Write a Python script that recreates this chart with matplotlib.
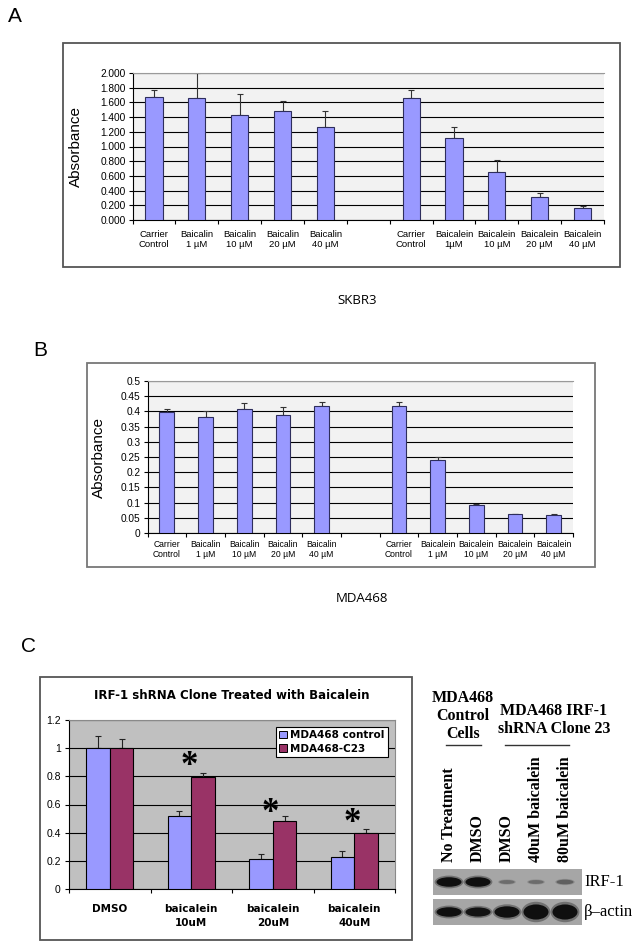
import numpy as np
import matplotlib
matplotlib.use("Agg")
import matplotlib.pyplot as plt
from matplotlib.patches import Rectangle, Ellipse, Patch
from matplotlib.lines import Line2D

# ---- data ----
# panel A : SKBR3
a_labels = ['Carrier\nControl', 'Baicalin\n1 µM', 'Baicalin\n10 µM', 'Baicalin\n20 µM', 'Baicalin\n40 µM', '',
            'Carrier\nControl', 'Baicalein\n1µM', 'Baicalein\n10 µM', 'Baicalein\n20 µM', 'Baicalein\n40 µM']
skbr3_baicalin = [1.667, 1.660, 1.427, 1.486, 1.268]
skbr3_baicalin_err = [0.105, 0.340, 0.287, 0.128, 0.214]
skbr3_baicalein = [1.664, 1.114, 0.655, 0.317, 0.159]
skbr3_baicalein_err = [0.109, 0.154, 0.163, 0.046, 0.036]

# panel B : MDA468
b_labels = ['Carrier\nControl', 'Baicalin\n1 µM', 'Baicalin\n10 µM', 'Baicalin\n20 µM', 'Baicalin\n40 µM', '',
            'Carrier\nControl', 'Baicalein\n1 µM', 'Baicalein\n10 µM', 'Baicalein\n20 µM', 'Baicalein\n40 µM']
mda_baicalin = [0.397, 0.380, 0.409, 0.388, 0.418]
mda_baicalin_err = [0.011, 0.020, 0.017, 0.025, 0.014]
mda_baicalein = [0.418, 0.241, 0.091, 0.061, 0.059]
mda_baicalein_err = [0.014, 0.009, 0.006, 0.0005, 0.002]

# panel C : IRF-1 shRNA clone
c_labels = ['DMSO', 'baicalein\n10uM', 'baicalein\n20uM', 'baicalein\n40uM']
c_control = [1.0, 0.517, 0.213, 0.229]
c_control_err = [0.083, 0.038, 0.035, 0.040]
c_c23 = [1.0, 0.796, 0.484, 0.401]
c_c23_err = [0.063, 0.026, 0.033, 0.024]
c_star_y = [None, 0.92, 0.59, 0.515]

# western blot
lanes = ['No Treatment', 'DMSO', 'DMSO', '40uM baicalein', '80uM baicalein']
irf1_signal = [1.0, 1.0, 0.25, 0.25, 0.35]
actin_signal = [1.0, 0.95, 1.25, 1.75, 1.75]

W, H = 644, 950
fig = plt.figure(figsize=(W / 100, H / 100), dpi=100)
fig.patch.set_facecolor('white')

SANS = ['Liberation Sans', 'DejaVu Sans']
SERIF = ['Liberation Serif', 'DejaVu Serif']


def rect(l, t, r, b):
    return [l / W, 1 - b / H, (r - l) / W, (b - t) / H]


def frame(l, t, r, b, color='#666666', lw=1.3):
    fig.add_artist(Rectangle((l / W, 1 - b / H), (r - l) / W, (b - t) / H, transform=fig.transFigure,
                             fill=False, edgecolor=color, linewidth=lw))


def ftext(x, y, s, **kw):
    fig.text(x / W, 1 - y / H, s, **kw)


def excel_bars(ax, left, left_err, right, right_err, labels, ymax, step, fmt, bw, fs_lab):
    pos = list(range(len(left))) + list(range(len(left) + 1, len(left) + 1 + len(right)))
    vals = left + right
    errs = left_err + right_err
    ax.set_facecolor('#f2f2f2')
    ax.bar(pos, vals, width=bw, color='#9999ff', edgecolor='#2e2e5c', linewidth=0.8, zorder=3)
    ax.errorbar(pos, vals, yerr=[np.zeros(len(vals)), errs], fmt='none', ecolor='#333333',
                elinewidth=0.8, capsize=2.5, capthick=0.8, zorder=2.5)
    ax.set_xlim(-0.5, len(labels) - 0.5)
    ax.set_ylim(0, ymax)
    yt = np.arange(0, ymax + step / 2, step)
    ax.set_yticks(yt)
    ax.set_yticklabels([fmt(v) for v in yt], family=SANS, fontsize=7.3)
    ax.yaxis.grid(True, color='black', linewidth=0.8)
    ax.set_axisbelow(True)
    ax.set_xticks(np.arange(-0.5, len(labels), 1))
    ax.set_xticklabels([])
    ax.set_xticks(range(len(labels)), minor=True)
    ax.set_xticklabels(labels, minor=True, family=SANS, fontsize=fs_lab, linespacing=1.15)
    ax.tick_params(axis='x', which='major', direction='out', length=3, width=0.8)
    ax.tick_params(axis='x', which='minor', length=0, pad=7)
    ax.tick_params(axis='y', direction='out', length=3, width=0.8, pad=2)
    for s in ['left', 'bottom']:
        ax.spines[s].set_linewidth(0.8)
    ax.spines['top'].set_color('#9a9a9a')
    ax.spines['right'].set_visible(False)
    ax.set_ylabel('Absorbance', family=SANS, fontsize=11)


# ---------------- panel A ----------------
ftext(15, 17, 'A', family=SANS, fontsize=15, ha='center', va='center')
frame(62.5, 43, 619.5, 267, color='#555555')
axA = fig.add_axes(rect(132.5, 73, 604, 220))
excel_bars(axA, skbr3_baicalin, skbr3_baicalin_err, skbr3_baicalein, skbr3_baicalein_err,
           a_labels, 2.0, 0.2, lambda v: f'{v:.3f}', 0.40, 6.8)
axA.yaxis.set_label_coords(-0.105, 0.5)
ftext(357, 301, 'SKBR3', family=['Open Sans', 'DejaVu Sans'], fontsize=9.5, ha='center', va='center')

# ---------------- panel B ----------------
ftext(40, 350, 'B', family=SANS, fontsize=15, ha='center', va='center')
frame(86.5, 363, 595, 567, color='#777777')
axB = fig.add_axes(rect(147.5, 381, 573, 533))
excel_bars(axB, mda_baicalin, mda_baicalin_err, mda_baicalein, mda_baicalein_err,
           b_labels, 0.5, 0.05, lambda v: f'{v:g}' if v > 1e-9 else '0', 0.38, 6.2)
axB.yaxis.set_label_coords(-0.098, 0.5)
axB.tick_params(axis='x', which='minor', pad=5)
ftext(362, 598, 'MDA468', family=['Open Sans', 'DejaVu Sans'], fontsize=9.5, ha='center', va='center')

# ---------------- panel C ----------------
ftext(29, 647, 'C', family=SANS, fontsize=15, ha='center', va='center')
frame(40, 677, 412, 940, color='#555555')
axC = fig.add_axes(rect(69, 720, 395, 889))
axC.set_facecolor('#c0c0c0')
xc = np.arange(len(c_labels))
bw = 0.29
axC.bar(xc - bw / 2, c_control, width=bw, color='#9999ff', edgecolor='black', linewidth=0.8, zorder=3)
axC.bar(xc + bw / 2, c_c23, width=bw, color='#993366', edgecolor='black', linewidth=0.8, zorder=3)
axC.errorbar(xc - bw / 2, c_control, yerr=[np.zeros(len(xc)), c_control_err], fmt='none', ecolor='#222222',
             elinewidth=0.8, capsize=2.5, capthick=0.8, zorder=2.5)
axC.errorbar(xc + bw / 2, c_c23, yerr=[np.zeros(len(xc)), c_c23_err], fmt='none', ecolor='#222222',
             elinewidth=0.8, capsize=2.5, capthick=0.8, zorder=2.5)
for i, sy in enumerate(c_star_y):
    if sy is not None:
        axC.annotate('*', (xc[i] - 0.03, sy), xytext=(0, -11.5), textcoords='offset points',
                     ha='center', va='baseline', fontsize=25, family=SERIF, fontweight='bold', zorder=5)
axC.set_xlim(-0.5, len(c_labels) - 0.5)
axC.set_ylim(0, 1.2)
ytc = np.arange(0, 1.21, 0.2)
axC.set_yticks(ytc)
axC.set_yticklabels([f'{v:g}' if v > 1e-9 else '0' for v in ytc], family=SANS, fontsize=7.5)
axC.yaxis.grid(True, color='black', linewidth=0.8)
axC.set_axisbelow(True)
axC.set_xticks(np.arange(-0.5, len(c_labels), 1))
axC.set_xticklabels([])
axC.set_xticks(xc, minor=True)
axC.set_xticklabels(c_labels, minor=True, family='DejaVu Sans', fontweight='bold', fontsize=7.5,
                    linespacing=1.5)
axC.tick_params(axis='x', which='major', direction='out', length=3, width=0.8)
axC.tick_params(axis='x', which='minor', length=0, pad=11)
axC.tick_params(axis='y', direction='out', length=3, width=0.8, pad=3)
for s in ['left', 'bottom']:
    axC.spines[s].set_linewidth(0.8)
for s in ['top', 'right']:
    axC.spines[s].set_color('#8a8a8a')
axC.set_title('IRF-1 shRNA Clone Treated with Baicalein', family='DejaVu Sans', fontweight='bold',
              fontsize=8.5, pad=15)
handles = [Patch(facecolor='#9999ff', edgecolor='black', linewidth=0.7),
           Patch(facecolor='#993366', edgecolor='black', linewidth=0.7)]
leg = axC.legend(handles, ['MDA468 control', 'MDA468-C23'], loc='upper left',
                 bbox_to_anchor=(276 / W, 1 - 727 / H), bbox_transform=fig.transFigure,
                 fancybox=False, framealpha=1, edgecolor='black', borderpad=0.3, borderaxespad=0,
                 handlelength=0.75, handleheight=0.75, handletextpad=0.3, labelspacing=0.35,
                 prop={'family': 'DejaVu Sans', 'weight': 'bold', 'size': 7.5})
leg.get_frame().set_linewidth(0.8)

# ---------------- western blot ----------------
x0, dx = 449, 29.0   # lane 0 centre and lane pitch (pixels)
y0, dy = 882, 30.0   # row 0 centre and row pitch (pixels)
bl, bt, br, bb = 420, 640, 644, 932
axW = fig.add_axes(rect(bl, bt, br, bb))
axW.set_xlim((bl - x0) / dx, (br - x0) / dx)
axW.set_ylim((bb - y0) / dy, (bt - y0) / dy)
axW.axis('off')
for row, sig in enumerate([irf1_signal, actin_signal]):
    axW.add_patch(Rectangle(((433 - x0) / dx, row - 0.42), (582 - 433) / dx, 0.84,
                            facecolor='#a6a6a6', edgecolor='none'))
    for i, s in enumerate(sig):
        w = min(12 + 14 * s, 25) / dx
        h = (2 + 7.5 * s) / dy
        g = max(0.06, 0.55 - 0.5 * min(s, 1))
        axW.add_patch(Ellipse((i, row), w * 1.15, h * 1.35, facecolor=(g, g, g), alpha=0.35, edgecolor='none'))
        axW.add_patch(Ellipse((i, row), w, h, facecolor=(g, g, g), edgecolor='none'))
axW.text((584 - x0) / dx, 0, 'IRF-1', family=SERIF, fontsize=12, ha='left', va='center')
axW.text((584 - x0) / dx, 1, 'β–actin', family=SERIF, fontsize=12, ha='left', va='center')
for i, lab in enumerate(lanes):
    axW.text(i, (862 - y0) / dy, lab, rotation=90, ha='center', va='bottom',
             family=SERIF, fontweight='bold', fontsize=11.5)

ftext(463, 716, 'MDA468\nControl\nCells', family=SERIF, fontweight='bold', fontsize=11.5,
      ha='center', va='center', linespacing=1.15)
ftext(554, 720, 'MDA468 IRF-1\nshRNA Clone 23', family=SERIF, fontweight='bold', fontsize=11.5,
      ha='center', va='center', linespacing=1.15)
fig.add_artist(Line2D([446 / W, 481 / W], [1 - 745 / H] * 2, color='#333333', linewidth=1.0))
fig.add_artist(Line2D([505 / W, 569 / W], [1 - 745 / H] * 2, color='#333333', linewidth=1.0))

fig.savefig('out.png', dpi=100)
